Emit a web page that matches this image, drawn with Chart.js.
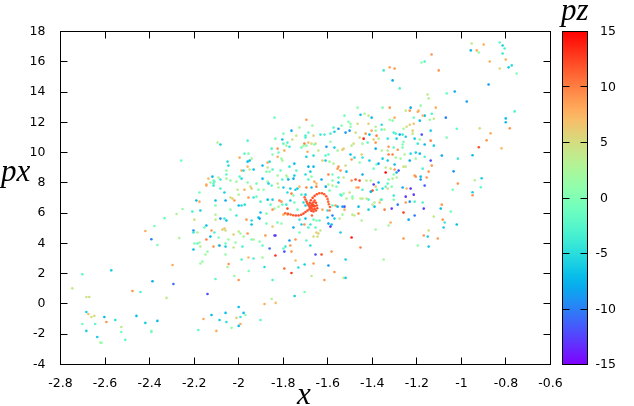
<!DOCTYPE html>
<html lang="en">
<head>
<meta charset="UTF-8">
<title>x px pz scatter</title>
<style>
  html, body { margin: 0; padding: 0; background: #fff; }
  canvas { display: block; }
</style>
</head>
<body>
<canvas id="chart" width="634" height="406"></canvas>
<script src="https://cdn.jsdelivr.net/npm/chart.js"></script>
<script>
const lowerLeft = [
[-2.258,9.47,-1],[-2.252,6.27,1],[-2.279,5.94,3],[-2.333,5.67,-1],[-2.378,5.15,-0.5],[-2.419,4.82,8],[-2.267,4.35,3],[-2.392,4.27,-10],
[-2.365,3.89,0],[-2.297,2.57,8],[-2.293,1.32,-11],[-2.387,1.5,-8],[-2.572,2.22,-6],[-2.702,1.96,-2],[-2.747,1.03,4],[-2.684,0.46,4],
[-2.671,0.46,5],[-2.477,0.86,9],[-2.441,0.79,-3],[-2.324,0.4,4],[-2.684,-0.53,-6],[-2.675,-0.66,7],[-2.661,-0.86,5],[-2.648,-0.79,5],
[-2.603,-0.86,-7],[-2.594,-1.19,9],[-2.554,-1.06,-5],[-2.459,-0.79,-7],[-2.419,-1.25,-6],[-2.365,-1.12,-7],[-2.702,-1.32,-1],[-2.684,-1.78,-6],
[-2.644,-1.32,-2],[-2.635,-2.18,-6],[-2.621,-2.55,2],[-2.616,-2.57,1],[-2.527,-1.52,4],[-2.527,-1.85,-1],[-2.509,-2.37,-2],[-2.392,-1.78,1],
[-2.392,-1.85,-1],[-2.14,0.66,-12],[-2.104,1.65,-2],[-2.019,1.85,1],[-2,1.58,9],[-2.122,-0.73,-7],[-2.158,-0.99,8],[-2.086,-1.06,-6],
[-2.059,-0.59,-7],[-2.055,-1.19,-5],[-2,-0.2,-7],[-1.978,-0.59,-7],[-1.992,-0.86,-4],[-2.01,-0.92,6],[-1.97,-0.73,1],[-1.992,-1.32,8],
[-2,-1.45,-7],[-2.181,-1.72,-2],[-2.1,-1.78,8],[-2.032,-1.58,1],[-1.902,-1.06,-2],[-1.884,0,8],[-1.852,0.33,3],[-1.834,0.07,7],
[-1.749,0.53,-6],[-1.704,0.79,0],[-1.848,1.58,-3],[-1.763,2.05,13],[-1.673,1.85,4],[-1.884,2.44,-5],[-1.955,2.18,0],[-2.045,2.64,9],
[-2.05,2.44,3],[-1.57,2.11,9],[-1.615,1.58,9],[-1.529,1.72,4],[-1.52,1.72,-6]
];
const midLeft = [
[-2.145,7.82,8],[-2.113,7.82,-4],[-2.176,7.36,-1],[-2.082,7.62,-3],[-2.064,7.36,-6],[-2.005,7.55,4],[-1.974,7.55,8],[-1.947,7.75,5],
[-1.942,7.62,6],[-1.911,7.55,0],[-1.888,7.55,2],[-1.852,7.82,-2],[-1.821,7.69,3],[-2,7.22,3],[-2.037,7.03,5],[-2.028,6.96,6],
[-2.019,6.83,9],[-2.19,6.83,-7],[-2.176,6.76,8],[-2.104,6.83,-7],[-2.059,6.83,-8],[-2.104,6.5,0],[-2,6.5,-7],[-1.987,6.5,-5],
[-1.973,6.56,-5],[-1.956,7.03,9],[-1.933,7.03,-4],[-1.92,7.09,-1],[-1.902,6.76,-3],[-1.87,6.89,-7],[-1.848,6.89,-6],[-1.857,6.56,-2],
[-1.817,6.83,10],[-1.821,6.43,2],[-1.839,6.3,1],[-1.848,6.23,9],[-2.037,6.23,1],[-2.172,6.17,-6],[-2.208,6.1,-3],[-2.01,5.84,-4],
[-1.902,6.04,-7],[-1.875,5.97,0],[-2.104,5.9,3],[-2.104,5.57,4],[-2.082,5.64,-9],[-2.064,5.64,-4],[-2.055,5.51,-7],[-1.965,5.57,9],
[-1.911,5.71,-7],[-1.906,5.64,-8],[-1.942,5.51,-5],[-1.942,5.25,-7],[-1.875,5.31,-1],[-1.826,5.38,-1],[-2.199,5.57,5],[-2.145,5.18,-7],
[-2.154,5.05,-1],[-2.203,4.85,-9],[-2.122,4.85,9],[-2.203,4.72,-4],[-2.185,4.72,3],[-2.127,4.45,-7],[-2.145,4.26,10],[-2.073,4.91,6],
[-2.064,4.98,7],[-2.059,4.85,5],[-2.109,4.72,-3],[-2.09,4.39,0],[-2.023,4.59,6],[-2.046,4.26,1],[-2,4.78,4],[-1.992,4.65,2],
[-1.978,4.45,2],[-1.96,4.65,9],[-1.942,4.26,-1],[-1.88,4.52,9],[-1.848,5.11,6],[-1.839,4.52,-12],[-1.835,4.52,-13],[-2.199,3.99,0],
[-2.185,3.99,-2],[-2.176,4.06,2],[-2.172,3.79,3],[-2.203,3.6,-7],[-2.149,3.27,2],[-2.14,3.46,1],[-2.113,3.79,9],[-2.09,3.86,4],
[-2.086,3.86,-8],[-2.059,3.99,-1],[-2.059,3.79,-6],[-2.014,4.06,1],[-2.023,3.73,4],[-1.983,3.79,-3],[-1.933,4.26,3],[-1.906,4.12,1],
[-1.893,3.86,-2],[-1.861,3.66,-11],[-1.835,3.2,13],[-2.059,3.27,1],[-1.987,2.94,-3],[-1.956,3.07,7],[-1.933,3,-3],[-1.893,3.07,2],
[-2.172,2.67,2],[-2.163,2.8,1]
];
const upperLeft = [
[-1.839,12.31,-1],[-1.835,10.92,-1],[-2.095,10.66,3],[-2.082,10.53,-6],[-1.96,10.79,-3],[-1.852,10.26,-3],[-1.825,10.26,9],[-1.848,9.87,0],
[-1.821,10,-1],[-1.825,9.73,8],[-1.974,9.93,-2],[-1.956,9.93,0],[-1.942,9.6,2],[-1.951,9.47,-7],[-1.96,9.4,-7],[-1.996,9.67,8],
[-2.05,9.4,-5],[-2.046,9.14,-5],[-1.96,9.07,7],[-1.87,9.34,8],[-1.861,9.4,-5],[-1.893,9.14,-7],[-1.87,9.01,4],[-2.055,8.81,1],
[-1.987,8.81,8],[-1.978,8.81,-5],[-1.951,8.88,4],[-1.933,8.88,-7],[-1.875,8.74,0],[-1.861,8.74,1],[-1.848,8.88,-3],[-1.812,8.81,-1],
[-2.055,8.55,-2],[-1.996,8.41,-2],[-1.987,8.28,-5],[-1.825,8.48,2],[-2.136,8.28,7],[-2.118,8.41,-7],[-2.091,8.35,3],[-2.082,8.22,-4],
[-2.055,8.28,2],[-2.037,8.15,1],[-2.01,8.08,2],[-1.96,8.02,0],[-1.92,7.95,-1],[-1.893,8.28,-7],[-1.87,8.08,1],[-1.866,7.95,-6],
[-1.825,7.95,4],[-2.113,8.15,-1],[-2.109,8.08,-2],[-2.127,8.02,2],[-2.145,7.89,8],[-2.113,7.95,-2]
];
const upperMid = [
[-1.466,12.97,1],[-1.453,12.5,-7],[-1.435,12.57,3],[-1.417,12.44,4],[-1.525,12.44,-1],[-1.696,12.17,9],[-1.727,11.65,2],[-1.669,11.78,2],
[-1.763,11.45,-8],[-1.799,11.25,0],[-1.741,11.12,4],[-1.804,10.86,-7],[-1.759,10.86,5],[-1.7,11.12,-3],[-1.7,10.99,-3],[-1.687,11.32,-2],
[-1.664,11.12,6],[-1.799,10.59,-2],[-1.781,10.66,-3],[-1.786,10.46,2],[-1.772,10.39,-4],[-1.795,10.13,8],[-1.718,10.33,-1],[-1.705,10.59,10],
[-1.696,10.46,0],[-1.709,10.46,2],[-1.687,10.66,7],[-1.673,10.59,5],[-1.655,10.59,6],[-1.66,10.53,0],[-1.691,10.06,8],[-1.642,10.13,4],
[-1.664,9.8,-5],[-1.696,9.73,-6],[-1.808,9.6,2],[-1.804,9.47,2],[-1.75,9.27,-7],[-1.741,8.81,-2],[-1.772,9.07,-4],[-1.687,9.07,-8],
[-1.664,9.07,-7],[-1.7,8.55,-5],[-1.678,8.74,-6],[-1.786,8.48,3],[-1.781,8.35,1],[-1.804,8.22,-3],[-1.777,8.22,-8],[-1.754,8.28,-8],
[-1.75,8.48,-6],[-1.687,8.22,-3],[-1.673,8.41,1],[-1.66,8.08,8],[-1.651,7.95,7],[-1.633,11.19,-4],[-1.615,11.19,-3],[-1.588,11.25,-3],
[-1.574,11.65,-2],[-1.57,11.38,-6],[-1.552,11.58,-9],[-1.538,11.78,1],[-1.507,12.04,0],[-1.498,11.91,1],[-1.498,11.71,1],[-1.502,11.45,-9],
[-1.52,11.32,-9],[-1.466,11.91,5],[-1.417,11.91,6],[-1.475,11.32,5],[-1.43,11.25,9],[-1.413,11.19,-7],[-1.439,10.92,14],[-1.457,10.99,5],
[-1.444,10.59,2],[-1.421,10.66,-2],[-1.484,10.59,5],[-1.493,10.46,3],[-1.606,10.39,-9],[-1.57,10.33,-6],[-1.588,10.72,1],[-1.534,10.19,7],
[-1.529,10.26,6],[-1.556,10.13,2],[-1.498,9.87,-7],[-1.48,9.67,-5],[-1.448,9.87,6],[-1.444,9.67,-4],[-1.597,9.87,-2],[-1.61,9.8,-2],
[-1.624,9.47,6],[-1.61,9.47,-6],[-1.592,9.4,2],[-1.574,9.27,3],[-1.493,9.54,9],[-1.52,9.14,5],[-1.457,9.34,1],[-1.552,9.07,9],
[-1.556,8.94,9],[-1.543,8.81,9],[-1.516,8.74,-7],[-1.413,9.47,-6],[-1.597,8.55,10],[-1.579,8.55,-1],[-1.552,8.35,-2],[-1.529,8.35,4],
[-1.628,8.22,-8],[-1.579,8.15,0],[-1.552,8.02,-7],[-1.493,8.15,9],[-1.475,8.22,12],[-1.457,8.15,12],[-1.444,8.55,-8],[-1.426,8.15,4],
[-1.597,7.89,3]
];
const centre = [
[-1.799,7.69,-6],[-1.768,7.62,-6],[-1.745,7.55,-6],[-1.736,7.62,-6],[-1.727,7.75,7],[-1.696,7.69,10],[-1.673,7.69,-7],[-1.651,7.75,10],
[-1.609,7.75,-8],[-1.579,7.82,3],[-1.561,7.75,0],[-1.592,7.49,-1],[-1.763,7.29,10],[-1.781,7.36,-5],[-1.754,7.16,0],[-1.718,7.22,-3],
[-1.7,7.22,-6],[-1.529,7.29,2],[-1.502,7.36,5],[-1.471,7.69,8],[-1.462,7.69,9],[-1.444,7.55,-3],[-1.538,7.16,-2],[-1.516,6.96,3],
[-1.489,7.09,0],[-1.489,6.96,2],[-1.453,6.96,3],[-1.444,6.96,4],[-1.426,6.96,4],[-1.417,6.89,-3],[-1.543,7.22,-3],[-1.768,6.83,-6],
[-1.808,6.76,9],[-1.786,6.56,-4],[-1.75,6.7,-1],[-1.709,6.7,-5],[-1.7,6.5,-6],[-1.736,6.23,-1],[-1.804,6.56,-1],[-1.781,6.3,12],
[-1.624,6.23,8],[-1.565,6.5,9],[-1.556,6.43,-7],[-1.579,6.5,-2],[-1.534,6.43,-8],[-1.525,6.43,-12],[-1.462,6.43,-7],[-1.601,6.17,-5],
[-1.592,6.17,10],[-1.525,6.23,8],[-1.417,6.23,-6],[-1.579,5.84,-10],[-1.57,5.64,-6],[-1.601,5.71,-7],[-1.547,5.64,4],[-1.534,5.9,2],
[-1.489,5.9,4],[-1.48,5.84,4],[-1.462,5.97,9],[-1.448,5.51,3],[-1.799,5.9,8],[-1.781,5.9,7],[-1.727,5.57,-4],[-1.7,5.64,-7],
[-1.664,5.57,-1],[-1.651,5.51,0],[-1.637,5.51,-2],[-1.808,5.31,1],[-1.718,5.25,-6],[-1.705,5.25,9],[-1.678,5.25,-4],[-1.655,5.05,-2],
[-1.597,5.31,-8],[-1.583,5.25,-7],[-1.588,5.11,-13],[-1.754,5.05,-8],[-1.687,5.05,-3],[-1.727,4.72,-1],[-1.633,4.85,4],[-1.651,4.72,6],
[-1.642,4.65,6],[-1.646,4.45,5],[-1.664,4.45,5],[-1.543,4.72,-6],[-1.772,4.19,-9],[-1.745,4.26,9],[-1.696,4.19,-2],[-1.493,4.39,14],
[-1.768,3.86,9],[-1.678,3.86,-5],[-1.79,3.79,-4],[-1.799,3.66,-2],[-1.453,3.73,10],[-1.795,3.46,-12],[-1.763,3.46,9],[-1.583,3.46,9],
[-1.655,3.27,-12],[-1.628,3.27,12],[-1.52,2.94,-6],[-1.745,2.87,7],[-1.704,2.61,-6],[-1.664,2.67,9],[-1.597,2.54,-9],[-1.795,2.34,11],
[-1.732,2.41,-5]
];
const swirl = [
[-1.791,5.99,11],[-1.779,5.95,11.5],[-1.767,5.91,11.5],[-1.755,5.86,11.5],[-1.743,5.84,12],[-1.731,5.84,12],[-1.719,5.89,12],[-1.709,5.97,12],
[-1.7,6.08,12],[-1.691,6.17,12],[-1.682,6.26,12],[-1.673,6.35,12],[-1.665,6.46,12],[-1.704,7.05,11],[-1.7,6.9,11.5],[-1.695,6.76,12],
[-1.691,6.63,12],[-1.686,6.5,12],[-1.68,6.37,12],[-1.68,6.68,12],[-1.676,6.85,12],[-1.668,7.01,12],[-1.659,7.14,12],[-1.649,7.25,12],
[-1.638,7.31,11.5],[-1.626,7.31,11.5],[-1.616,7.25,11.5],[-1.607,7.12,11.5],[-1.601,6.94,11],[-1.598,6.76,11],[-1.595,6.59,11],[-1.59,6.41,11],
[-1.659,6.83,12],[-1.653,6.68,12],[-1.649,6.5,12],[-1.647,6.32,12],[-1.653,6.17,12],[-1.664,6.11,12],[-1.674,6.15,12],[-1.683,6.5,12],
[-1.671,6.61,12],[-1.664,6.72,12],[-1.674,6.5,12],[-1.665,6.54,12],[-1.659,6.46,12],[-1.659,6.28,12],[-1.668,6.24,12],[-1.679,6.39,12],
[-1.671,5.84,11]
];
const midRight = [
[-1.354,12.97,0],[-1.322,12.97,9],[-1.228,12.97,-8],[-1.232,12.77,9],[-1.183,13.1,1],[-1.115,12.97,8],[-1.403,12.31,-7],[-1.25,12.77,4],
[-1.192,12.77,7],[-1.196,12.7,8],[-1.214,12.31,-1],[-1.165,12.44,-7],[-1.174,12.44,7],[-1.133,12.57,-3],[-1.124,12.24,4],[-1.142,12.17,1],
[-1.07,12.31,-10],[-1.322,12.17,2],[-1.309,12.11,0],[-1.3,12.31,8],[-1.187,12.11,-7],[-1.232,11.84,6],[-1.358,11.84,-5],[-1.385,11.71,3],
[-1.246,11.71,5],[-1.26,11.58,2],[-1.214,11.91,7],[-1.403,11.45,8],[-1.385,11.45,1],[-1.358,11.52,-2],[-1.345,11.52,3],[-1.219,11.45,6],
[-1.138,11.45,-6],[-1.021,11.58,-2],[-1.178,11.19,-12],[-1.219,11.25,4],[-1.304,11.32,-3],[-1.295,11.25,-3],[-1.277,11.19,-8],[-1.264,11.19,-4],
[-1.25,11.05,-6],[-1.381,11.12,10],[-1.372,10.92,3],[-1.394,10.86,6],[-1.331,10.92,-4],[-1.291,10.92,-6],[-1.21,10.92,-6],[-1.187,10.86,2],
[-1.066,10.99,0],[-1.138,10.79,10],[-1.385,10.66,9],[-1.26,10.72,0],[-1.264,10.53,0],[-1.196,10.59,-4],[-1.165,10.53,-7],[-1.124,10.46,-6],
[-1.385,10.26,-8],[-1.327,10.39,9],[-1.358,10.13,3],[-1.331,10.13,3],[-1.304,10.33,-2],[-1.264,10.33,0],[-1.286,10.19,9],[-1.228,9.93,-5],
[-1.255,9.87,3],[-1.309,9.87,10],[-1.327,9.87,10],[-1.205,10,-6],[-1.187,9.93,-7],[-1.088,9.8,-8],[-1.016,9.6,-4],[-1.354,9.6,-6],
[-1.331,9.47,-6],[-1.295,9.67,2],[-1.273,9.6,2],[-1.232,9.47,-8],[-1.205,9.6,2],[-1.165,9.73,-3],[-1.138,9.47,-12],[-1.381,9.21,-1],
[-1.3,9.21,-7],[-1.372,9.27,-8],[-1.133,9.14,9],[-1.26,9.07,5],[-1.25,9.07,4],[-1.34,9.01,4],[-1.394,8.94,-1],[-1.318,8.94,5],
[-1.3,8.88,9],[-1.282,8.81,-12],[-1.174,8.94,-3],[-1.147,8.74,9],[-1.34,8.68,15],[-1.291,8.68,-8],[-1.304,8.55,0],[-1.21,8.48,9],
[-1.205,8.41,9],[-1.156,8.35,9],[-1.183,8.41,-7],[-1.183,8.22,-9],[-1.291,8.35,3],[-1.309,8.28,3],[-1.327,8.22,0],[-1.372,8.02,-8],
[-1.331,7.95,-2],[-1.394,7.89,-13],[-1.407,8.15,3],[-1.016,7.95,9]
];
const lowerRight = [
[-1.264,7.69,-8],[-1.246,7.62,7],[-1.228,7.62,-13],[-1.165,7.82,-11],[-1.039,7.55,-1],[-1.214,7.22,-13],[-1.25,7.09,-13],[-1.304,7.16,-4],
[-1.304,6.89,0],[-1.232,6.76,-9],[-1.25,6.7,9],[-1.21,6.76,-3],[-1.174,6.7,-3],[-1.286,6.56,-10],[-1.088,6.56,9],[-1.093,6.3,-7],
[-1.169,6.3,-13],[-1.313,6.3,-13],[-1.345,6.23,10],[-1.048,6.1,-1],[-1.26,6.04,13],[-1.21,5.84,-10],[-1.124,5.77,4],[-1.237,5.57,-8],
[-1.084,5.57,9],[-1.075,5.38,-4],[-1.318,5.38,8],[-1.327,5.18,2],[-1.021,5.25,-7],[-1.08,5.05,-6],[-1.385,4.92,2],[-1.147,4.85,5],
[-1.169,4.52,9],[-1.151,4.45,-6],[-1.26,4.32,9],[-1.106,4.32,9],[-1.196,3.86,1],[-1.147,3.79,-6],[-1.349,2.94,2],[-1.399,6.56,4],
[-1.39,6.43,-7],[-1.363,6.89,4],[-1.358,6.89,-3],[-1.367,6.7,7],[-1.39,6.7,3],[-1.385,7.75,6],[-1.38,7.55,-3],[-1.399,7.49,12],
[-1.407,7.42,-8],[-1.354,7.62,-5],[-1.34,7.75,-2],[-1.331,7.62,5],[-1.313,7.75,0]
];
const upperRight = [
[-0.954,17.21,4],[-0.9,17.14,8],[-0.931,16.75,8],[-0.922,16.61,1],[-0.958,16.75,-7],[-0.828,17.27,-2],[-0.815,17.08,-6],[-0.806,16.88,-3],
[-0.815,16.55,-4],[-0.873,16.02,8],[-0.801,16.15,8],[-0.774,15.76,-5],[-0.788,15.63,-6],[-0.828,15.56,5],[-0.752,15.23,0],[-1.134,16.48,9],
[-1.179,15.95,1],[-1.165,16.02,-3],[-1.322,15.63,8],[-1.3,15.56,9],[-1.349,15.43,-4],[-1.102,15.43,9],[-1.309,14.77,-8],[-1.277,14.24,-3],
[-0.878,14.5,-9],[-1.03,14.04,-8],[-1.066,13.91,-1],[-1.152,13.84,4],[-1.147,13.58,3],[-0.976,13.38,-9],[-0.761,12.72,-3],[-0.801,12.26,-7],
[-0.801,12,-7],[-0.783,11.6,9],[-0.918,11.6,5],[-0.869,11.27,8],[-0.887,10.81,9],[-0.82,10.28,7],[-0.922,10.35,12],[-0.95,9.82,-7],
[-1.035,8.76,-9],[-0.909,8.3,-6],[-0.94,8.17,3],[-0.913,7.71,-2],[-0.95,7.38,-6],[-0.95,7.18,9]
];
const xTicks = [-2.8, -2.6, -2.4, -2.2, -2, -1.8, -1.6, -1.4, -1.2, -1, -0.8, -0.6];
const yTicks = [-4, -2, 0, 2, 4, 6, 8, 10, 12, 14, 16, 18];
const pzTicks = [-15, -10, -5, 0, 5, 10, 15];

// gnuplot rainbow palette (rgbformulae 33,13,10)
function rainbow(pz) {
    const t = Math.min(1, Math.max(0, (pz + 15) / 30));
    const r = Math.min(1, Math.abs(2 * t - 0.5));
    const g = Math.sin(Math.PI * t);
    const b = Math.cos(Math.PI * t / 2);
    return `rgb(${Math.round(r * 255)},${Math.round(g * 255)},${Math.round(b * 255)})`;
}

const allPoints = [...lowerLeft, ...midLeft, ...upperLeft, ...upperMid, ...centre, ...midRight, ...lowerRight, ...upperRight, ...swirl]
    .map(p => ({ x: p[0], y: p[1], pz: p[2] }));

const labelFont = '12.5px "DejaVu Sans"';
const titleFont = 'italic 31px "Liberation Serif"';

const frame = {
    id: 'frame',
    afterDraw(chart) {
        const c = chart.ctx;
        const a = chart.chartArea;
        const bar = chart.scales.pz;
        const barLeft = 562.5, barRight = 587.5;
        c.save();
        c.strokeStyle = '#000';
        c.lineWidth = 1;
        c.strokeRect(a.left, a.top, a.right - a.left, a.bottom - a.top);

        // inward ticks on all four sides
        c.beginPath();
        xTicks.slice(1, -1).forEach(v => {
            const p = Math.floor(chart.scales.x.getPixelForValue(v)) + 0.5;
            c.moveTo(p, a.bottom); c.lineTo(p, a.bottom - 7);
            c.moveTo(p, a.top); c.lineTo(p, a.top + 7);
        });
        yTicks.slice(1, -1).forEach(v => {
            const p = Math.floor(chart.scales.y.getPixelForValue(v)) + 0.5;
            c.moveTo(a.left, p); c.lineTo(a.left + 7, p);
            c.moveTo(a.right, p); c.lineTo(a.right - 7, p);
        });
        c.stroke();

        // colour bar
        const grad = c.createLinearGradient(0, a.bottom, 0, a.top);
        for (let i = 0; i <= 30; i++) grad.addColorStop(i / 30, rainbow(i - 15));
        c.fillStyle = grad;
        c.fillRect(barLeft, a.top, barRight - barLeft, a.bottom - a.top);
        c.strokeRect(barLeft, a.top, barRight - barLeft, a.bottom - a.top);
        c.beginPath();
        pzTicks.slice(1, -1).forEach(v => {
            const p = Math.floor(bar.getPixelForValue(v)) + 0.5;
            c.moveTo(barLeft, p); c.lineTo(barLeft + 7, p);
            c.moveTo(barRight, p); c.lineTo(barRight - 7, p);
        });
        c.stroke();

        c.fillStyle = '#000';
        c.font = labelFont;
        c.textBaseline = 'middle';
        c.textAlign = 'left';
        pzTicks.forEach(v => {
            c.fillText(String(v), v < 0 ? 595.5 : 600, bar.getPixelForValue(v) + 0.5);
        });

        // axis names
        c.font = titleFont;
        c.textBaseline = 'alphabetic';
        c.fillText('px', 1, 181);
        c.fillText('pz', 561, 20);
        c.fillText('x', 297, 404);
        c.restore();
    }
};

new Chart(document.getElementById('chart'), {
    type: 'scatter',
    data: {
        datasets: [{
            data: allPoints,
            pointRadius: 1.3,
            pointHoverRadius: 1.3,
            borderWidth: 0,
            backgroundColor: ctx => rainbow(ctx.raw ? ctx.raw.pz : 0)
        }]
    },
    options: {
        responsive: false,
        animation: false,
        plugins: { legend: { display: false }, tooltip: { enabled: false } },
        layout: { padding: { top: 31.5, left: 0, right: 0, bottom: 0 } },
        scales: {
            x: {
                type: 'linear',
                min: -2.8, max: -0.6,
                afterBuildTicks: s => { s.ticks = xTicks.map(v => ({ value: v })); },
                afterFit: s => { s.height = 41.5; },
                grid: { display: false },
                border: { display: false },
                ticks: {
                    color: '#000', padding: 4, maxRotation: 0, autoSkip: false,
                    font: { family: 'DejaVu Sans', size: 12.5 },
                    callback: v => String(v)
                }
            },
            y: {
                min: -4, max: 18,
                afterBuildTicks: s => { s.ticks = yTicks.map(v => ({ value: v })); },
                afterFit: s => { s.width = 60.5; },
                grid: { display: false },
                border: { display: false },
                ticks: {
                    color: '#000', padding: 7, autoSkip: false,
                    font: { family: 'DejaVu Sans', size: 12.5 },
                    callback: v => String(v)
                }
            },
            pz: {
                axis: 'y',
                type: 'linear',
                position: 'right',
                min: -15, max: 15,
                afterFit: s => { s.width = 83.5; },
                grid: { display: false },
                border: { display: false },
                ticks: { display: false }
            }
        }
    },
    plugins: [frame]
});
</script>
</body>
</html>
